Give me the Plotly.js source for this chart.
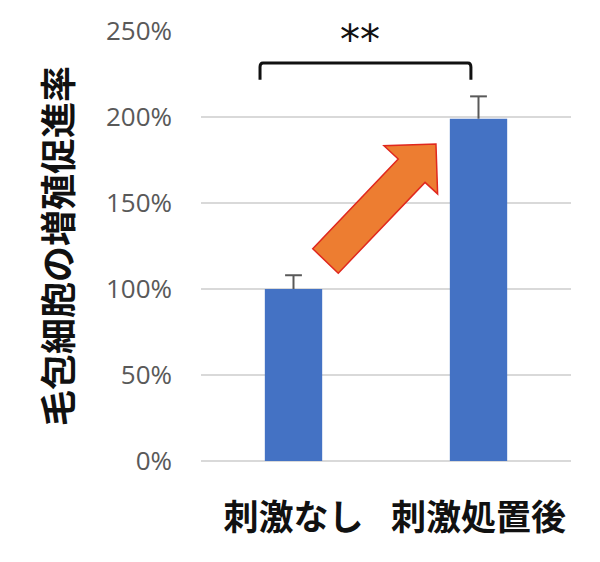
<!DOCTYPE html>
<html>
<head>
<meta charset="utf-8">
<script src="https://cdn.plot.ly/plotly-3.0.1.min.js"></script>
<style>body{margin:0;background:#fff}#chart{width:600px;height:562px}</style>
</head>
<body>
<div id="chart"></div>
<script>
var categories = ['刺激なし', '刺激処置後'];
var rates = [100, 199];
var errPlus = [8, 13];
var yTicks = [0, 50, 100, 150, 200, 250];
var yTickText = ['0%', '50%', '100%', '150%', '200%', '250%'];

// orange arrow outline, in (category index, percent)
var arrowPts = [[0.104, 123.4], [0.242, 109.2], [0.711, 162.0], [0.779, 155.3],
                [0.770, 184.3], [0.489, 183.3], [0.566, 175.6]];

function toPath(pts){
    return 'M' + pts.map(function(p){ return p[0] + ',' + p[1] }).join(' L') + ' Z'
}

var errTop = rates.map(function(v, i){ return v + errPlus[i] });

var bars = {
  x: categories,
  y: rates,
  type: 'bar',
  marker: {color: '#4472C4'},
  hoverinfo: 'none'
};

// error stem from bar top up, cap drawn as a marker
var errs = {
  x: categories,
  y: errTop,
  type: 'scatter',
  mode: 'markers',
  marker: {symbol: 'line-ew', size: 12, line: {color: '#595959', width: 2}},
  error_y: {type: 'data', symmetric: false, array: [0, 0], arrayminus: errPlus,
            color: '#595959', thickness: 2, width: 0},
  hoverinfo: 'none'
};

var layout = {
  width: 600, height: 562,
  margin: {l: 201, r: 29, t: 31, b: 101},
  paper_bgcolor: '#fff', plot_bgcolor: '#fff',
  showlegend: false,
  bargap: 0.69,
  font: {family: '"Noto Sans CJK JP", sans-serif'},
  xaxis: {
    tickangle: 0, ticks: '', showline: false,
    ticklabelstandoff: 33,
    tickfont: {size: 35, color: '#111', weight: 'bold'}
  },
  yaxis: {
    range: [0, 250], tickvals: yTicks, ticktext: yTickText,
    gridcolor: '#D9D9D9', gridwidth: 1.5, zerolinecolor: '#D9D9D9', zerolinewidth: 1.5,
    showline: false, ticks: '',
    ticklabelstandoff: 28,
    tickfont: {size: 26, color: '#595959', family: '"Open Sans", sans-serif'},
    title: {text: '毛包細胞の増殖促進率', standoff: 22,
            font: {size: 36, color: '#111', weight: 'bold'}}
  },
  shapes: [
    {type: 'path', xref: 'x', yref: 'y', path: toPath(arrowPts),
     fillcolor: '#ED7D31', line: {color: '#E0281E', width: 1.5}},
    {type: 'path', xref: 'x', yref: 'y',
     path: 'M-0.181,221.6 L-0.181,229 Q-0.181,231.4 -0.165,231.4 L0.943,231.4 Q0.959,231.4 0.959,229 L0.959,221.6',
     line: {color: '#111', width: 3}}
  ],
  annotations: [
    {xref: 'x', yref: 'y', x: 0.36, y: 245, text: '**', showarrow: false,
     font: {size: 40, color: '#111', family: 'DejaVu Sans'}}
  ]
};

Plotly.newPlot('chart', [bars, errs], layout, {displayModeBar: false, staticPlot: true});
</script>
</body>
</html>
